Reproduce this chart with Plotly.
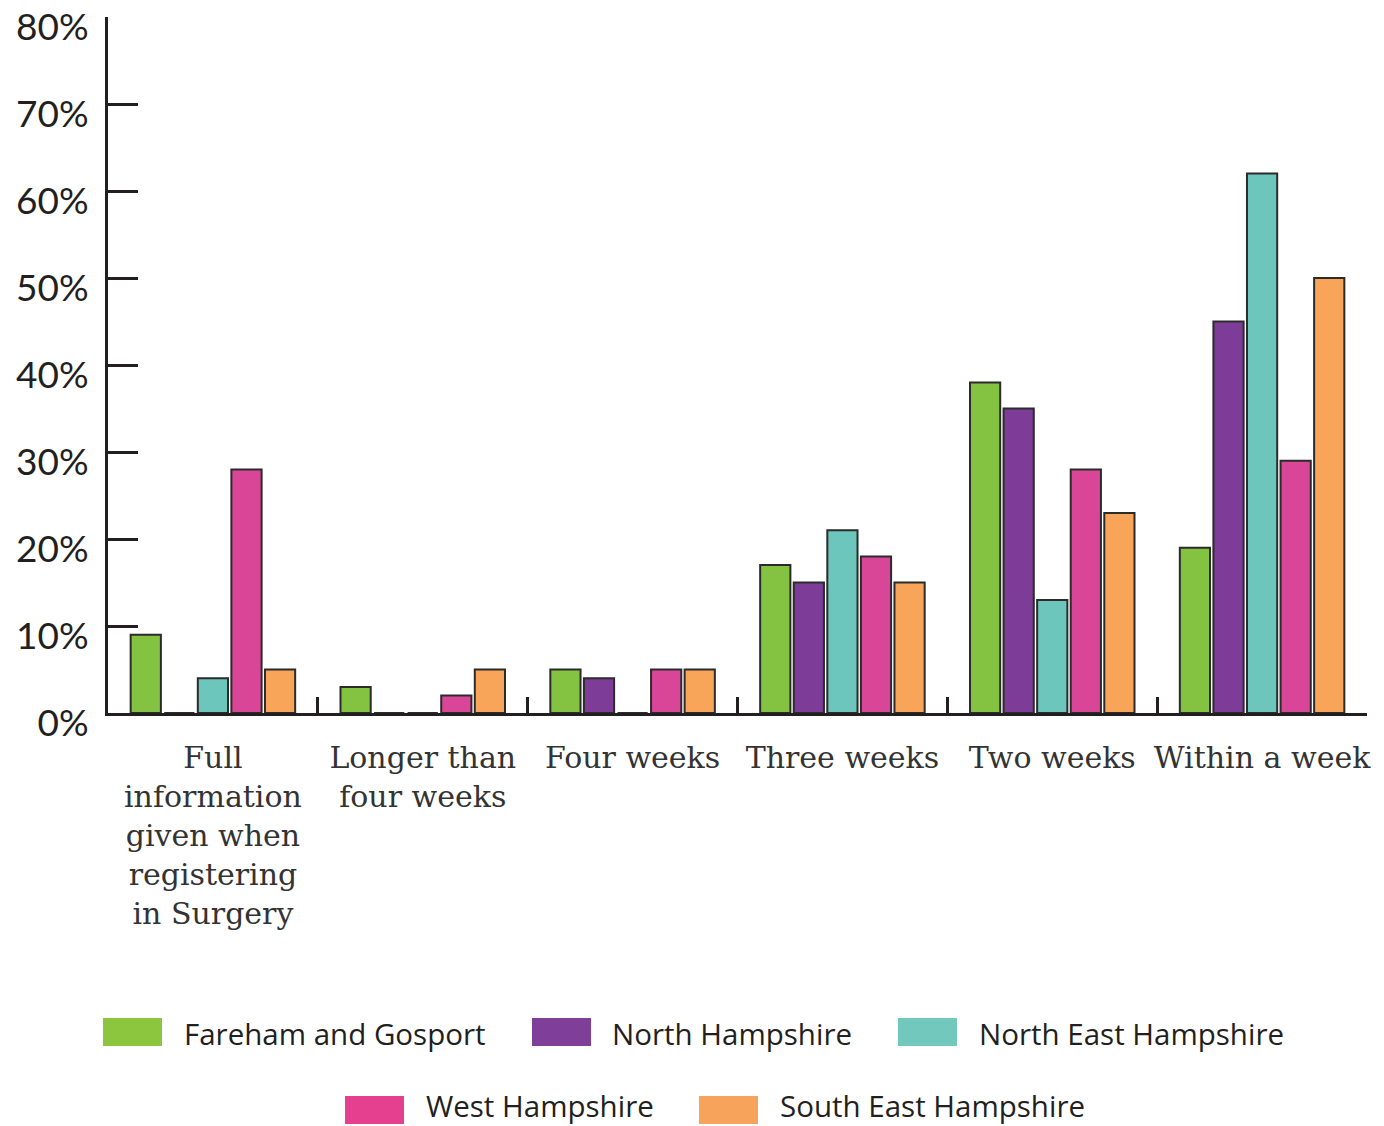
import plotly.graph_objects as go

# Response categories (x axis) and tick text with manual line breaks
categories = ["Full information given when registering in Surgery",
              "Longer than four weeks", "Four weeks", "Three weeks",
              "Two weeks", "Within a week"]
category_labels = ["Full<br>information<br>given when<br>registering<br>in Surgery",
                   "Longer than<br>four weeks", "Four weeks", "Three weeks",
                   "Two weeks", "Within a week"]

# Percentage of respondents per area
fareham_gosport = [9, 3, 5, 17, 38, 19]
north_hampshire = [0, 0, 4, 15, 35, 45]
north_east_hampshire = [4, 0, 0, 21, 13, 62]
west_hampshire = [28, 2, 5, 18, 28, 29]
south_east_hampshire = [5, 5, 5, 15, 23, 50]

series_names = ["Fareham and Gosport", "North Hampshire", "North East Hampshire",
                "West Hampshire", "South East Hampshire"]
series_values = [fareham_gosport, north_hampshire, north_east_hampshire,
                 west_hampshire, south_east_hampshire]
bar_colors = ["#84c341", "#7d3c97", "#6cc6bb", "#da4697", "#f8a559"]
swatch_colors = ["#8cc63f", "#7f3f98", "#72c8bc", "#e5408f", "#f7a35c"]

y_ticks = [0, 10, 20, 30, 40, 50, 60, 70, 80]
y_tick_labels = [f"{v}%" for v in y_ticks]

INK = "#231f20"

fig = go.Figure()
for name, vals, col in zip(series_names, series_values, bar_colors):
    fig.add_trace(go.Bar(
        x=categories, y=vals, name=name,
        marker=dict(color=col, line=dict(color="#2b2b2b", width=2)),
        showlegend=False,
    ))

# Plot area geometry in pixels (used to place the legend in paper units)
W, H = 1384, 1126
L, R, T, B = 108, 17, 17, 413
pw, ph = W - L - R, H - T - B


def px_x(x):
    return (x - L) / pw


def px_y(y):
    return (H - B - y) / ph


# Legend: two centred rows of colour swatches with labels
legend_rows = [
    [(0, 103, 183), (1, 532, 611), (2, 898, 978)],
    [(3, 345, 425), (4, 699, 779)],
]
row_centres = [1032, 1110]
text_centres = [1033, 1105]
for row, yc, yt in zip(legend_rows, row_centres, text_centres):
    for idx, sx, tx in row:
        fig.add_shape(type="rect", xref="paper", yref="paper",
                      x0=px_x(sx), x1=px_x(sx + 59),
                      y0=px_y(yc + 14), y1=px_y(yc - 14),
                      fillcolor=swatch_colors[idx], line=dict(width=0))
        fig.add_annotation(x=px_x(tx), y=px_y(yt), xref="paper", yref="paper",
                           text=series_names[idx], showarrow=False,
                           xanchor="left", yanchor="middle", borderpad=0,
                           font=dict(family="Open Sans", size=29.5, color=INK))

fig.update_layout(
    width=W, height=H,
    margin=dict(l=L, r=R, t=T, b=B, pad=0, autoexpand=False),
    paper_bgcolor="white", plot_bgcolor="white",
    barmode="group", bargap=0.2, bargroupgap=0.1,
    font=dict(color=INK),
)
fig.update_xaxes(
    type="category", tickmode="array", tickvals=categories, ticktext=category_labels,
    tickson="boundaries", ticks="inside", ticklen=16, tickwidth=3, tickcolor=INK,
    showline=True, linecolor=INK, linewidth=3, showgrid=False, zeroline=False,
    tickfont=dict(family="DejaVu Serif", size=30, color="#333333"),
    tickangle=0, automargin=False, ticklabelstandoff=16,
)
fig.update_yaxes(
    range=[0, 80], tickmode="array", tickvals=y_ticks, ticktext=y_tick_labels,
    ticks="inside", ticklen=30, tickwidth=3, tickcolor=INK,
    showline=True, linecolor=INK, linewidth=3, showgrid=False, zeroline=False,
    tickfont=dict(family="Lato", size=37, color=INK),
    automargin=False, ticklabelstandoff=9, ticklabelshift=10,
)

fig.write_html("out.html")
